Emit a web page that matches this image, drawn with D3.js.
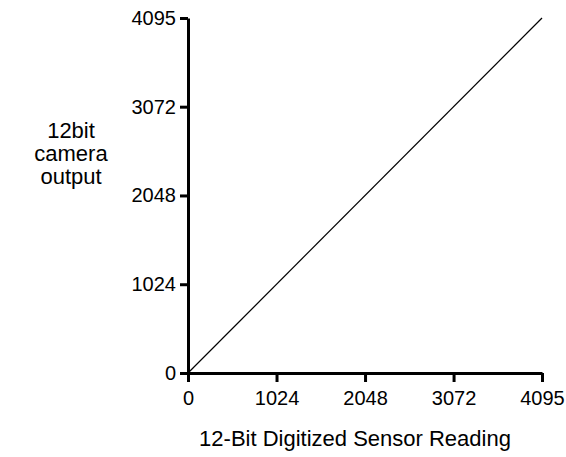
<!DOCTYPE html>
<html>
<head>
<meta charset="utf-8">
<script src="https://cdn.jsdelivr.net/npm/d3@7"></script>
<style>
  body { margin: 0; background: #fff; }
  text { font-family: "Liberation Sans", Arial, sans-serif; fill: #000; }
</style>
</head>
<body>
<div id="chart"></div>
<script>
"use strict";

// chart data
const xTicks = [0, 1024, 2048, 3072, 4095];
const yTicks = [0, 1024, 2048, 3072, 4095];
const sensorReading = [0, 4095];
const cameraOutput = [0, 4095];
const xTitle = "12-Bit Digitized Sensor Reading";
const yTitle = ["12bit", "camera", "output"];

const msm = {
    width: 566,
    height: 457,
    left: 188,
    right: 542,
    top: 18,
    bottom: 373,
    tickFont: 20,
    titleFont: 22
}

const svg = d3.select("#chart")
    .append("svg")
    .attr("width", msm.width)
    .attr("height", msm.height);

let xScale = d3.scaleLinear()
    .domain([0, 4095])
    .range([msm.left, msm.right]);

let yScale = d3.scaleLinear()
    .domain([0, 4095])
    .range([msm.bottom, msm.top]);

// x axis
let xAxis = d3.axisBottom(xScale)
    .tickValues(xTicks)
    .tickFormat(d3.format("d"))
    .tickSize(9)
    .tickSizeOuter(0)
    .tickPadding(9);
let gx = svg.append("g")
    .attr("transform", "translate(0," + msm.bottom + ")")
    .call(xAxis);

// y axis
let yAxis = d3.axisLeft(yScale)
    .tickValues(yTicks)
    .tickFormat(d3.format("d"))
    .tickSize(8)
    .tickSizeOuter(0)
    .tickPadding(4);
let gy = svg.append("g")
    .attr("transform", "translate(" + msm.left + ",0)")
    .call(yAxis);

[gx, gy].forEach(g => {
    g.select(".domain").attr("stroke", "#000").attr("stroke-width", 3);
    g.selectAll(".tick line").attr("stroke", "#000").attr("stroke-width", 3);
    g.selectAll(".tick text")
        .style("font-family", "'Liberation Sans', Arial, sans-serif")
        .style("font-size", msm.tickFont + "px")
        .attr("fill", "#000");
});

// line
let pts = sensorReading.map((d, i) => [d, cameraOutput[i]]);
svg.append("path")
    .datum(pts)
    .attr("fill", "none")
    .attr("stroke", "#000")
    .attr("stroke-width", 1.2)
    .attr("d", d3.line()
        .x(d => xScale(d[0]))
        .y(d => yScale(d[1])));

// axis titles
svg.append("text")
    .attr("x", 355)
    .attr("y", 446)
    .attr("text-anchor", "middle")
    .style("font-size", msm.titleFont + "px")
    .text(xTitle);

svg.append("text")
    .attr("x", 71)
    .attr("y", 138)
    .attr("text-anchor", "middle")
    .style("font-size", msm.titleFont + "px")
    .selectAll("tspan")
    .data(yTitle)
    .enter()
    .append("tspan")
    .attr("x", 71)
    .attr("dy", (d, i) => i === 0 ? 0 : 23)
    .text(d => d);
</script>
</body>
</html>
